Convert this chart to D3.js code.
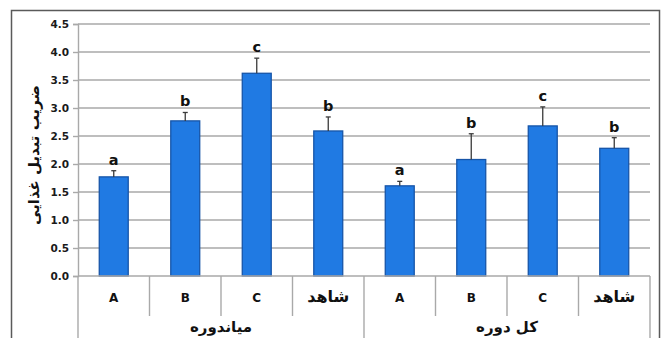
<!DOCTYPE html>
<html>
<head>
<meta charset="utf-8">
<script src="https://cdn.jsdelivr.net/npm/d3@7/dist/d3.min.js"></script>
<style>
  html, body { margin: 0; padding: 0; background: #fff; }
  svg { display: block; }
  text { font-family: "DejaVu Sans", Verdana, sans-serif; }
</style>
</head>
<body>
<svg id="chart" width="662" height="338"></svg>
<script>
// Groups and treatments
const groups = ["میاندوره", "کل دوره"];
const treatments = ["A", "B", "C", "شاهد"];
// Feed conversion ratio, mean per treatment in each group
const meanMid = [1.77, 2.77, 3.62, 2.59];
const meanAll = [1.61, 2.08, 2.68, 2.28];
// Standard error (upper whisker only)
const errMid = [0.11, 0.15, 0.27, 0.25];
const errAll = [0.08, 0.46, 0.34, 0.19];
// Significance letters
const sigMid = ["a", "b", "c", "b"];
const sigAll = ["a", "b", "c", "b"];
const yTicks = [0, 0.5, 1, 1.5, 2, 2.5, 3, 3.5, 4, 4.5];
const yTitle = "ضریب تبدیل غذایی";

const rows = [];
[[meanMid, errMid, sigMid], [meanAll, errAll, sigAll]].forEach(([m, e, s], gi) => {
  treatments.forEach((t, ti) => {
    rows.push({ key: gi + "-" + ti, group: groups[gi], label: t, value: m[ti], err: e[ti], sig: s[ti] });
  });
});

const svg = d3.select("#chart");
const plotL = 78, plotR = 650, plotT = 24, plotB = 276;

// outer frame
svg.append("rect").attr("x", 11.5).attr("y", 10.5).attr("width", 648).attr("height", 340)
  .attr("fill", "none").attr("stroke", "#5a5a5a").attr("stroke-width", 1.5);

const x = d3.scaleBand().domain(rows.map(d => d.key)).range([plotL, plotR]).paddingInner(0.595).paddingOuter(0.2975);
const xCat = d3.scaleBand().domain(rows.map(d => d.key)).range([plotL, plotR]).padding(0);
const y = d3.scaleLinear().domain([0, 4.5]).range([plotB, plotT]);

// gridlines
svg.append("g").selectAll("line").data(yTicks.filter(v => v > 0)).join("line")
  .attr("x1", plotL).attr("x2", plotR)
  .attr("y1", d => y(d)).attr("y2", d => y(d))
  .attr("stroke", "#a9a9a9").attr("stroke-width", 1.4);

// y axis
const yAxis = svg.append("g").attr("transform", `translate(${plotL},0)`)
  .call(d3.axisLeft(y).tickValues(yTicks).tickFormat(d3.format(".1f")).tickSize(5).tickPadding(4));
yAxis.select(".domain").attr("stroke", "#a9a9a9").attr("stroke-width", 1.4);
yAxis.selectAll(".tick line").attr("stroke", "#a9a9a9").attr("stroke-width", 1.4);
yAxis.selectAll(".tick text").attr("font-size", 10.5).attr("font-weight", "bold").attr("fill", "#1a1a1a")
  .attr("font-family", "Verdana, 'DejaVu Sans', sans-serif");

// bars
svg.append("g").selectAll("rect").data(rows).join("rect")
  .attr("x", d => x(d.key)).attr("width", x.bandwidth())
  .attr("y", d => y(d.value)).attr("height", d => y(0) - y(d.value))
  .attr("fill", "#207ae3").attr("stroke", "#1755a8").attr("stroke-width", 1.3);

// error bars
const eb = svg.append("g").attr("stroke", "#3a3a3a").attr("stroke-width", 1.3);
eb.selectAll("line.v").data(rows).join("line").attr("class", "v")
  .attr("x1", d => x(d.key) + x.bandwidth() / 2).attr("x2", d => x(d.key) + x.bandwidth() / 2)
  .attr("y1", d => y(d.value)).attr("y2", d => y(d.value + d.err));
eb.selectAll("line.c").data(rows).join("line").attr("class", "c")
  .attr("x1", d => x(d.key) + x.bandwidth() / 2 - 2.5).attr("x2", d => x(d.key) + x.bandwidth() / 2 + 2.5)
  .attr("y1", d => y(d.value + d.err)).attr("y2", d => y(d.value + d.err));

// significance letters
svg.append("g").selectAll("text").data(rows).join("text")
  .attr("x", d => x(d.key) + x.bandwidth() / 2)
  .attr("y", d => y(d.value + d.err) - 6)
  .attr("text-anchor", "middle").attr("font-size", 14.5).attr("font-weight", "bold").attr("fill", "#111")
  .attr("font-family", "Verdana, 'DejaVu Sans', sans-serif")
  .text(d => d.sig);

// x axis: category row
const xa = svg.append("g");
xa.append("line").attr("x1", plotL).attr("x2", plotR).attr("y1", plotB).attr("y2", plotB)
  .attr("stroke", "#a9a9a9").attr("stroke-width", 1.4);
const dividers = rows.map(d => xCat(d.key)).concat([plotR]);
xa.selectAll("line.div").data(dividers).join("line").attr("class", "div")
  .attr("x1", d => d).attr("x2", d => d)
  .attr("y1", plotB)
  .attr("y2", (d, i) => (i % 4 === 0) ? 338 : 316)
  .attr("stroke", "#a9a9a9").attr("stroke-width", 1.4);
xa.selectAll("text.cat").data(rows).join("text").attr("class", "cat")
  .attr("x", d => xCat(d.key) + xCat.bandwidth() / 2)
  .attr("y", 302)
  .attr("text-anchor", "middle")
  .attr("font-size", d => /[A-Z]/.test(d.label) ? 12 : 16)
  .attr("font-weight", "bold").attr("fill", "#111")
  .attr("font-family", d => /[A-Z]/.test(d.label) ? "Verdana, 'DejaVu Sans', sans-serif" : "'Noto Sans', 'DejaVu Sans', sans-serif")
  .text(d => d.label);

// group row
xa.selectAll("text.grp").data(groups).join("text").attr("class", "grp")
  .attr("x", (g, i) => {
    const a = xCat(i + "-0"), b = xCat(i + "-3") + xCat.bandwidth();
    return (a + b) / 2;
  })
  .attr("y", 332)
  .attr("text-anchor", "middle").attr("font-size", 15).attr("font-weight", "bold").attr("fill", "#111")
  .attr("font-family", "'Noto Sans', 'DejaVu Sans', sans-serif")
  .text(d => d);

// y axis title
svg.append("text")
  .attr("transform", `translate(39,${(plotT + plotB) / 2 + 5}) rotate(-90)`)
  .attr("text-anchor", "middle").attr("font-size", 15).attr("font-weight", "bold").attr("fill", "#111")
  .attr("font-family", "'Noto Sans', 'DejaVu Sans', sans-serif")
  .text(yTitle);
</script>
</body>
</html>
